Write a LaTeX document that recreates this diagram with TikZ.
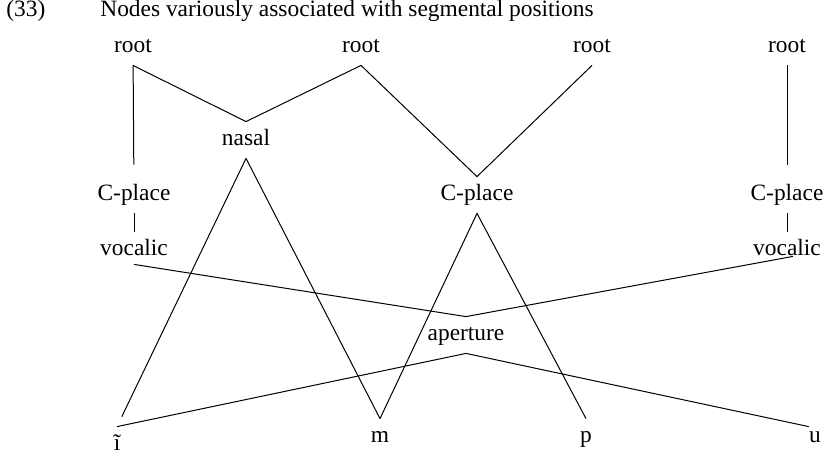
\documentclass[tikz,border=0pt]{standalone}
\usepackage{fontspec}
\setmainfont{Liberation Serif}

\begin{document}
\begin{tikzpicture}[
    x=0.5pt, y=-0.5pt,
    lab/.style={inner xsep=0pt, inner ysep=3.5pt, text height=8pt,
      text depth=3pt, font=\fontsize{11.7}{14}\selectfont},
    link/.style={line width=0.5pt}
]
\useasboundingbox (0,0) rectangle (829,455);

% Heading
\node[lab, anchor=west] (num) at (6,12) {(33)};
\node[lab, anchor=west] (title) at (100,12) {Nodes variously associated with segmental positions};

% Root nodes
\node[lab] (r1) at (133,47) {root};
\node[lab] (r2) at (361,47) {root};
\node[lab] (r3) at (592,47) {root};
\node[lab] (r4) at (787,47) {root};

% Class nodes
\node[lab] (nasal) at (246,140) {nasal};
\node[lab] (cp1) at (134,195) {C-place};
\node[lab] (cp2) at (477,195) {C-place};
\node[lab] (cp3) at (787,195) {C-place};
\node[lab] (voc1) at (134,250) {vocalic};
\node[lab] (voc2) at (787,250) {vocalic};
\node[lab] (apert) at (466,335) {aperture};

% Segments
\node[lab] (itil) at (117,445) {ĩ};
\node[lab] (segm) at (380,437) {m};
\node[lab] (segp) at (586,437) {p};
\node[lab] (segu) at (815,437) {u};

% Links
\draw[link, shorten >=6pt] (r1) -- (cp1);
\draw[link] (r1.south) -- (nasal.north) -- (r2.south);
\draw[link] (r2.south) -- (cp2.north) -- (r3.south);
\draw[link, shorten >=6pt] (r4) -- (cp3);
\draw[link] (cp1) -- (voc1);
\draw[link] (cp3) -- (voc2);
\draw[link, shorten >=5.5pt] (nasal.south) -- (itil.north);
\draw[link] (nasal.south) -- (segm.north);
\draw[link] (segm.north) -- (cp2.south) -- (segp.north);
\draw[link] ([yshift=2pt]voc1.south) -- (apert.north) -- ([shift={(3pt,6pt)}]voc2.south);
\draw[link] (itil.north) -- (apert.south) -- ([yshift=-4pt]segu.north west);

\end{tikzpicture}
\end{document}
